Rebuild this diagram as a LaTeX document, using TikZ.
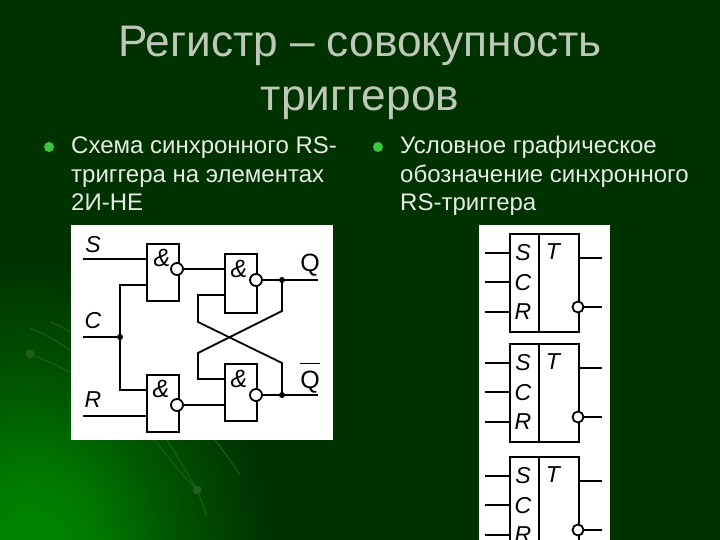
\documentclass[tikz,border=0pt]{standalone}
\usepackage{fontspec}
\setmainfont{Liberation Sans}
\definecolor{bgdark}{RGB}{0,50,0}
\definecolor{bgglow}{RGB}{0,135,0}
\definecolor{titlecol}{RGB}{190,200,185}
\definecolor{bodycol}{RGB}{228,236,228}
\definecolor{bulletcol}{RGB}{60,200,60}
\definecolor{arccol}{RGB}{30,95,30}
\pgfdeclareradialshading{glow}{\pgfpoint{0bp}{0bp}}{
  color(0bp)=(bgglow); color(7bp)=(bgglow!85!bgdark); color(15bp)=(bgglow!40!bgdark); color(25bp)=(bgdark); color(50bp)=(bgdark)}
\tikzset{
  x=1pt,y=-1pt,
  titletext/.style={font=\fontsize{44.2}{53}\selectfont,text=titlecol,align=center,inner sep=0pt},
  bodytext/.style={font=\fontsize{24}{28.5}\selectfont,text=bodycol,align=left,anchor=base west,inner sep=0pt},
  bulletdot/.style={circle,fill=bulletcol,minimum size=10pt,inner sep=0pt},
  panel/.style={fill=white,draw=none},
  wire/.style={line width=1.8pt,draw=black},
  gate/.style={draw=black,line width=1.8pt,fill=white,minimum width=32pt,inner sep=0pt,anchor=north west},
  bubble/.style={circle,draw=black,line width=1.8pt,fill=white,minimum size=12pt,inner sep=0pt},
  junction/.style={circle,fill=black,minimum size=6pt,inner sep=0pt},
  siglabel/.style={font=\fontsize{23}{23}\selectfont\itshape,inner sep=0pt},
  amp/.style={font=\fontsize{25}{25}\selectfont\itshape,inner sep=0pt},
  bgarc/.style={draw=arccol,line width=1pt},
  bgdot/.style={circle,fill=arccol,minimum size=9pt,inner sep=0pt}
}
\begin{document}
\begin{tikzpicture}
\useasboundingbox (0,0) rectangle (720,540);
\clip (0,0) rectangle (720,540);
\fill[bgdark] (0,0) rectangle (720,540);
\shade[shading=glow] (-210,260) rectangle (270,860);
% background streaks
\draw[bgarc] (30,354) .. controls (45,360) and (58,366) .. (70,372);
\draw[bgarc] (30,328) .. controls (45,334) and (58,342) .. (70,350);
\draw[bgarc] (50,322) .. controls (58,325) and (64,328) .. (70,332);
\draw[bgarc] (155,440) .. controls (170,460) and (185,478) .. (197,490);
\draw[bgarc] (167,440) .. controls (178,458) and (188,474) .. (197,490) .. controls (200,497) and (203,505) .. (206,515);
\draw[bgarc] (215,440) .. controls (224,452) and (232,462) .. (240,475);
\node[bgdot] (glowa) at (30,354) {};
\node[bgdot] (glowb) at (197,490) {};
% heading
\node[titletext,anchor=base] (title) at (360,57) {Регистр – совокупность};
\node[titletext,anchor=base] (title2) at (360,111) {триггеров};
% bullets
\node[bulletdot] (bulla) at (49,147) {};
\node[bulletdot] (bullb) at (378,147) {};
\node[bodytext] (texta) at (71,154) {\parbox[t]{300pt}{\raggedright Схема синхронного RS-\\триггера на элементах\\2И-НЕ}};
\node[bodytext] (textb) at (400,154) {\parbox[t]{320pt}{\raggedright Условное графическое\\обозначение синхронного\\RS-триггера}};
% left panel
\fill[panel] (71,225) rectangle (333,440);
\node[gate,minimum height=57pt] (g1) at (146,243) {};
\node[gate,minimum height=59pt] (g2) at (224,253) {};
\node[gate,minimum height=57pt] (g3) at (146,374) {};
\node[gate,minimum height=57pt] (g4) at (224,363) {};
\node[amp] (a1) at (162,258) {\&};
\node[amp] (a2) at (239,269) {\&};
\node[amp] (a3) at (161,389) {\&};
\node[amp] (a4) at (239,379) {\&};
\node[siglabel] (ls) at (93,245) {S};
\node[siglabel] (lc) at (93,321) {C};
\node[siglabel] (lr) at (93,400) {R};
\node[siglabel,font=\fontsize{25}{25}\selectfont] (lq) at (310,265) {Q};
\node[siglabel,font=\fontsize{25}{25}\selectfont,anchor=base] (lqb) at (310,388) {\(\overline{\hbox{\rule{0pt}{23pt}Q}}\)};
\coordinate (sin) at (83,259);
\coordinate (cin) at (83,337);
\coordinate (rin) at (83,416);
\coordinate (qout) at (318,280);
\coordinate (qbout) at (318,395);
\coordinate (cr1) at (282,311);
\coordinate (cl1) at (198,353);
\coordinate (cl2) at (198,322);
\coordinate (cr2) at (282,363);
\node[junction] (jc) at (120,337) {};
\node[junction] (jq) at (282,280) {};
\node[junction] (jqb) at (282,395) {};
\draw[wire] (sin) -- (sin -| g1.west);
\draw[wire] (cin) -- (jc);
\draw[wire] (rin) -- (rin -| g3.west);
\draw[wire] (g1.west |- 0,285) -| (jc.center) |- (g3.west |- 0,390);
\node[bubble] (b1) at (177,269) {};
\node[bubble] (b2) at (256,280) {};
\node[bubble] (b3) at (177,405) {};
\node[bubble] (b4) at (256,395) {};
\draw[wire] (b1) -- (b1 -| g2.west);
\draw[wire] (b3) -- (b3 -| g4.west);
\draw[wire] (b2) -- (qout);
\draw[wire] (b4) -- (qbout);
\draw[wire] (jq.center) -- (cr1) -- (cl1) -- (198,379) -- (g4.west |- 0,379);
\draw[wire] (g2.west |- 0,295) -- (198,295) -- (cl2) -- (cr2) -- (jqb.center);
% right panel
\fill[panel] (479,225) rectangle (610,540);
\foreach \n/\t in {1/233,2/343,3/456}{
  \node[gate,minimum width=69pt,minimum height=98pt] (box\n) at (509,\t) {};
  \draw[wire] (539,\t) -- (539,\t+98);
  \node[siglabel] (s\n) at (523,\t+20) {S};
  \node[siglabel] (c\n) at (523,\t+50) {C};
  \node[siglabel] (r\n) at (523,\t+79) {R};
  \node[siglabel] (t\n) at (553,\t+19) {T};
  \coordinate (is\n) at (485,\t+20);
  \coordinate (ic\n) at (485,\t+49);
  \coordinate (ir\n) at (485,\t+79);
  \coordinate (oq\n) at (602,\t+25);
  \coordinate (on\n) at (602,\t+74);
  \node[bubble,minimum size=11pt] (bb\n) at (578,\t+74) {};
  \draw[wire] (is\n) -- (is\n -| box\n.west);
  \draw[wire] (ic\n) -- (ic\n -| box\n.west);
  \draw[wire] (ir\n) -- (ir\n -| box\n.west);
  \draw[wire] (oq\n -| box\n.east) -- (oq\n);
  \draw[wire] (bb\n) -- (on\n);
}
\end{tikzpicture}
\end{document}
